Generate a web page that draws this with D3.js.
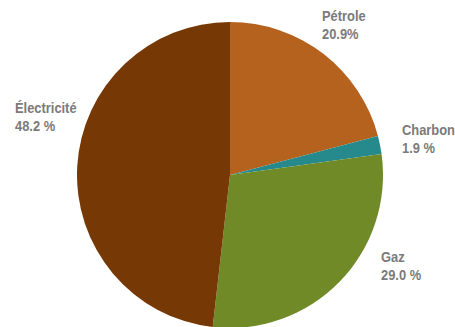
<!DOCTYPE html>
<html><head><meta charset="utf-8">
<script src="https://cdn.jsdelivr.net/npm/d3@7"></script>
<style>body{margin:0;background:#fff}svg{display:block}</style>
</head><body>
<svg id="c" width="455" height="327"></svg>
<script>
const categories = ["Pétrole", "Charbon", "Gaz", "Électricité"];
const values = [20.9, 1.9, 29.0, 48.2];
const valueLabels = ["20.9%", "1.9 %", "29.0 %", "48.2 %"];
const colors = ["#b5621f", "#268a8c", "#6f8a27", "#763805"];
const labelPos = [[322, 21], [402, 135], [381, 262], [15, 113]];

const svg = d3.select("#c");
const cx = 230, cy = 175, r = 153;
const pie = d3.pie().sort(null).value(d => d.v);
const arc = d3.arc().innerRadius(0).outerRadius(r);
const data = categories.map((c, i) => ({c, v: values[i], lab: valueLabels[i], col: colors[i], p: labelPos[i]}));
const g = svg.append("g").attr("transform", `translate(${cx},${cy})`);
g.selectAll("path").data(pie(data)).join("path")
  .attr("d", arc).attr("fill", d => d.data.col);

const lg = svg.selectAll("g.l").data(data).join("g")
  .attr("class", "l")
  .attr("transform", d => `translate(${d.p[0]},${d.p[1]}) scale(0.86,1)`);
const t = lg.append("text")
  .attr("font-family", "'Liberation Sans',Arial,sans-serif")
  .attr("font-weight", "bold").attr("font-size", 15).attr("fill", "#7b7b7b");
t.append("tspan").attr("x", 0).attr("y", 0).text(d => d.c);
t.append("tspan").attr("x", 0).attr("y", 18).text(d => d.lab);
</script>
</body></html>
